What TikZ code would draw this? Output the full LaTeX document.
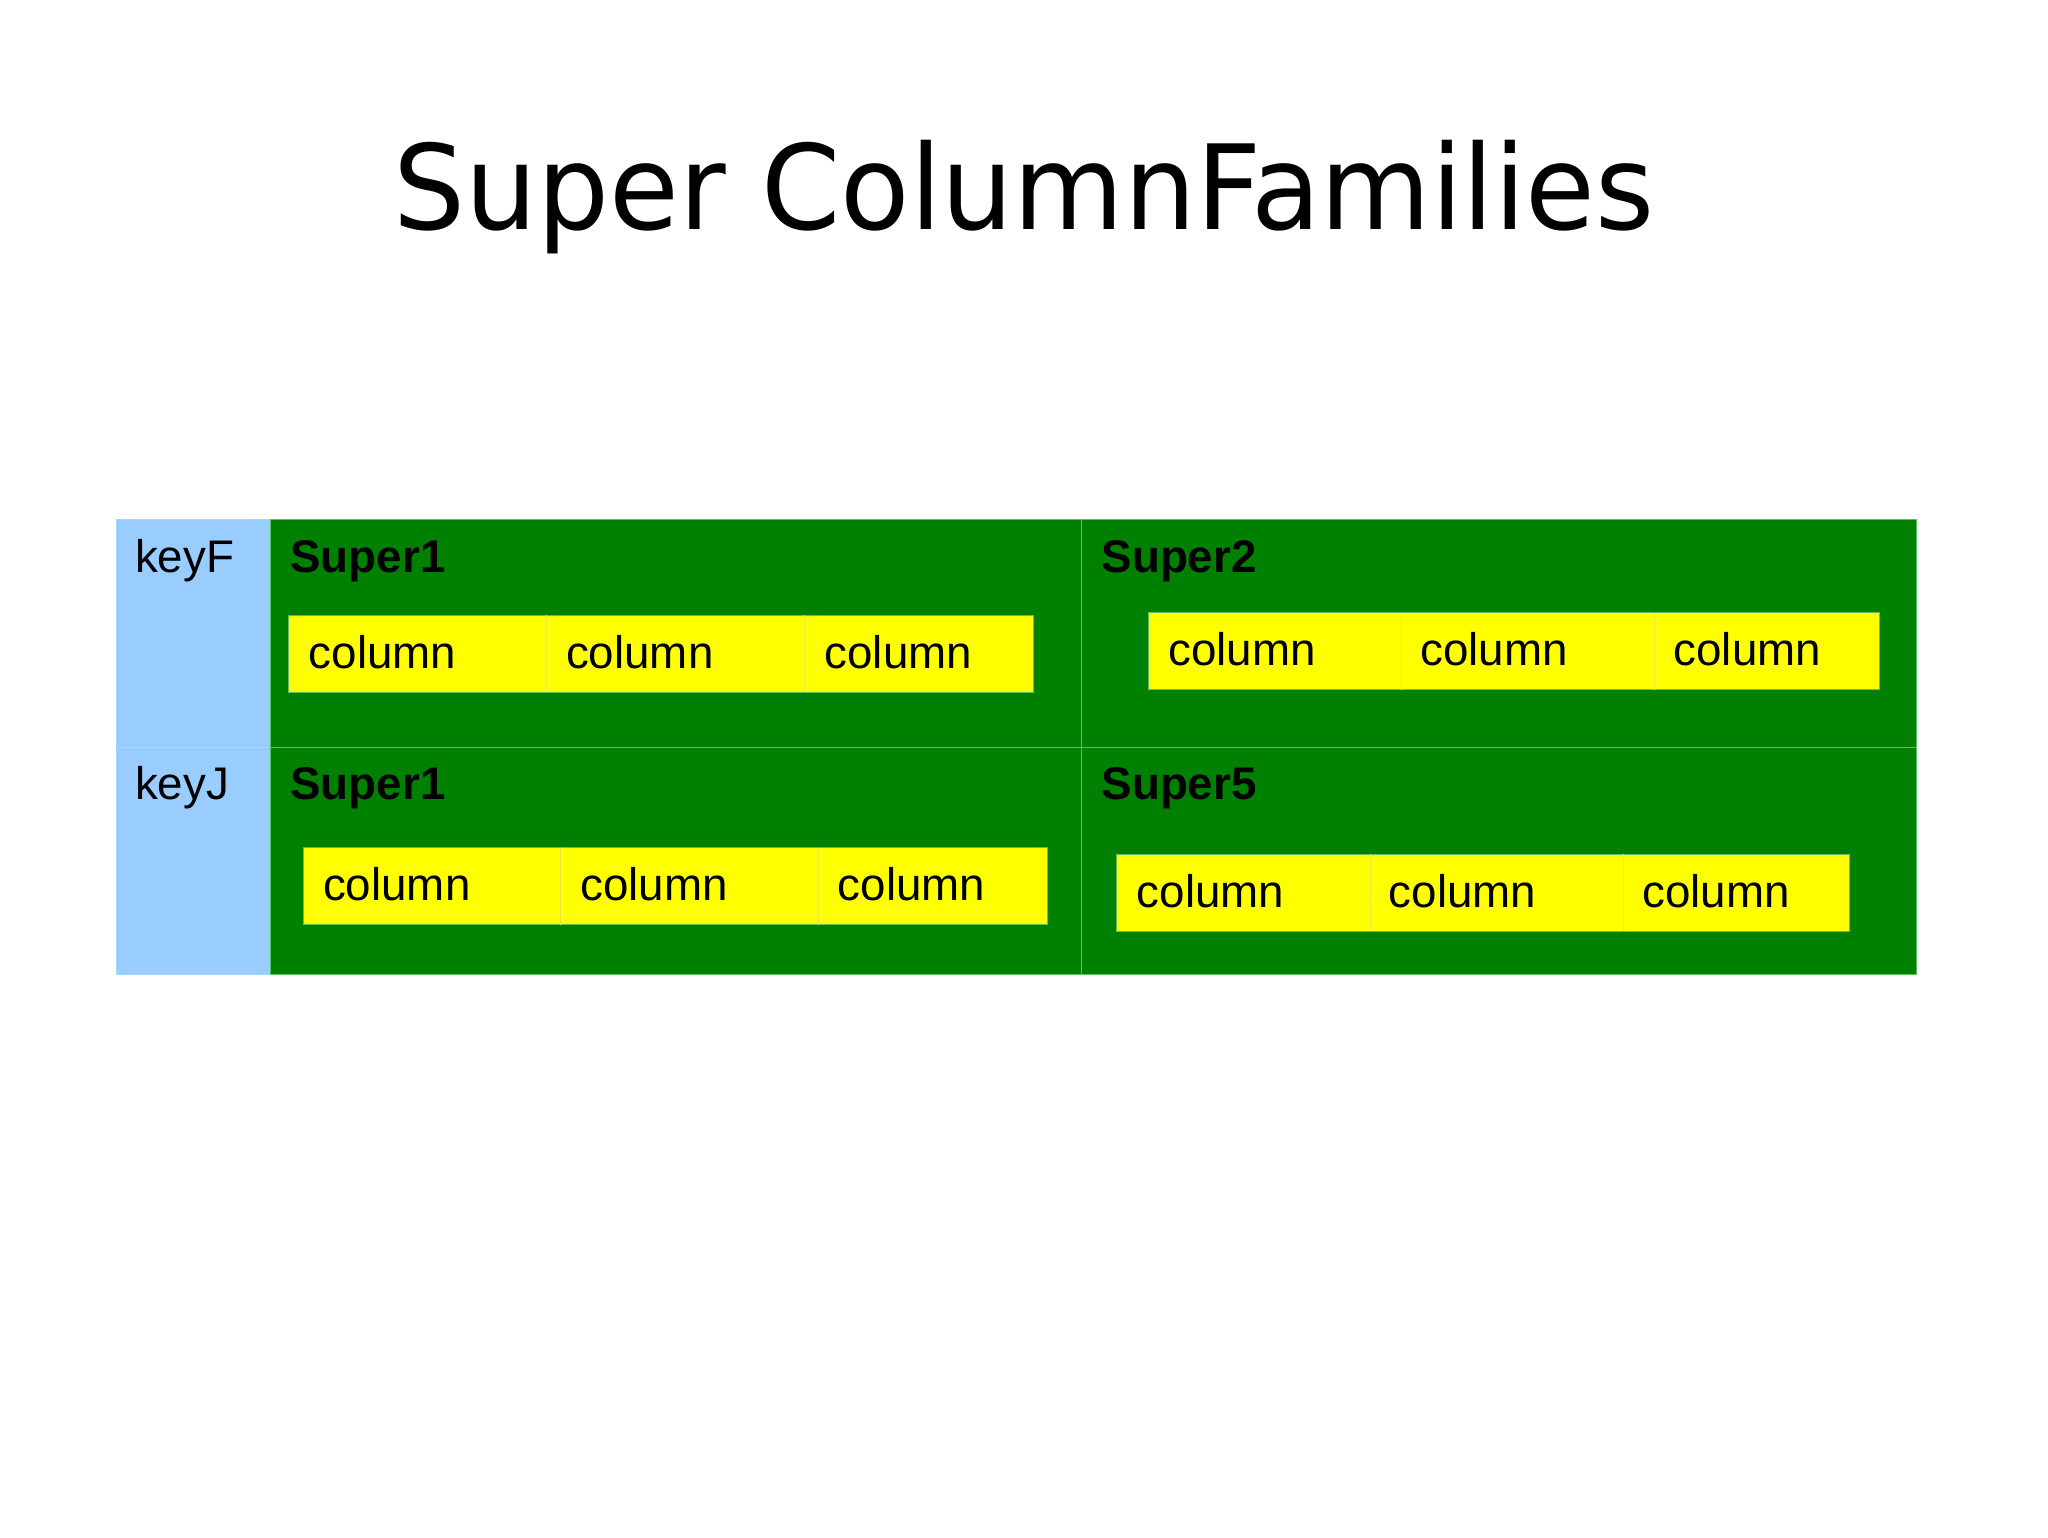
\documentclass[tikz,border=0pt]{standalone}
\usepackage{fontspec}
\newfontfamily\arialf{Liberation Sans}
\newfontfamily\dejavuf{DejaVu Sans}
\definecolor{keyblue}{HTML}{99CCFF}
\definecolor{keyline}{HTML}{A8D4FF}
\definecolor{cfgreen}{HTML}{008000}
\definecolor{gridgreen}{HTML}{5CC05C}
\definecolor{colyellow}{HTML}{FFFF00}
\definecolor{colline}{HTML}{E8E840}
\tikzset{
  txt/.style={inner sep=0pt, anchor=base west, font=\arialf\fontsize{17.5}{21}\selectfont},
  boldtxt/.style={txt, font=\arialf\bfseries\fontsize{17.5}{21}\selectfont},
  colbox/.style={fill=colyellow, draw=gridgreen, line width=0.35pt},
  colsep/.style={draw=colline, line width=0.35pt},
  gridline/.style={draw=gridgreen, line width=0.35pt},
}
\begin{document}
\begin{tikzpicture}[x=0.5pt, y=-0.5pt]
\useasboundingbox[fill=white] (0,0) rectangle (1568,1177);
% title
\node[inner sep=0pt, anchor=base] (title) at (784,176)
  {\dejavuf\fontsize{45}{50}\selectfont\scalebox{0.965}[1]{Super ColumnFamilies}};
% table background
\fill[keyblue] (89,398) rectangle (207,746);
\fill[cfgreen] (207,398) rectangle (1467,746);
\draw[draw=keyline, line width=0.35pt] (89,398) rectangle (207,746);
\draw[draw=keyline, line width=0.35pt] (89,572) -- (207,572);
\draw[gridline] (207,398) rectangle (1467,746);
\draw[gridline] (207,572) -- (1467,572);
\draw[gridline] (828,398) -- (828,746);
% keys
\node[txt] (keyF) at (103,438) {keyF};
\node[txt] (keyJ) at (103,612) {keyJ};
% super column names
\node[boldtxt] (s11) at (222,438) {Super1};
\node[boldtxt] (s12) at (843,438) {Super2};
\node[boldtxt] (s21) at (222,612) {Super1};
\node[boldtxt] (s22) at (843,612) {Super5};
% column boxes row 1 left
\path[colbox] (221,471) rectangle (791,530);
\draw[colsep] (418,471) -- (418,530) (616,471) -- (616,530);
\node[txt] (c111) at (236,511.5) {column};
\node[txt] (c112) at (433,511.5) {column};
\node[txt] (c113) at (631,511.5) {column};
% row 1 right
\path[colbox] (879,469) rectangle (1439,528);
\draw[colsep] (1073,469) -- (1073,528) (1267,469) -- (1267,528);
\node[txt] (c121) at (894,509.5) {column};
\node[txt] (c122) at (1087,509.5) {column};
\node[txt] (c123) at (1281,509.5) {column};
% row 2 left
\path[colbox] (232,649) rectangle (802,708);
\draw[colsep] (429,649) -- (429,708) (627,649) -- (627,708);
\node[txt] (c211) at (247,689.5) {column};
\node[txt] (c212) at (444,689.5) {column};
\node[txt] (c213) at (641,689.5) {column};
% row 2 right
\path[colbox] (855,654) rectangle (1416,713);
\draw[colsep] (1049,654) -- (1049,713) (1243,654) -- (1243,713);
\node[txt] (c221) at (870,694.5) {column};
\node[txt] (c222) at (1063,694.5) {column};
\node[txt] (c223) at (1257,694.5) {column};
\end{tikzpicture}
\end{document}
